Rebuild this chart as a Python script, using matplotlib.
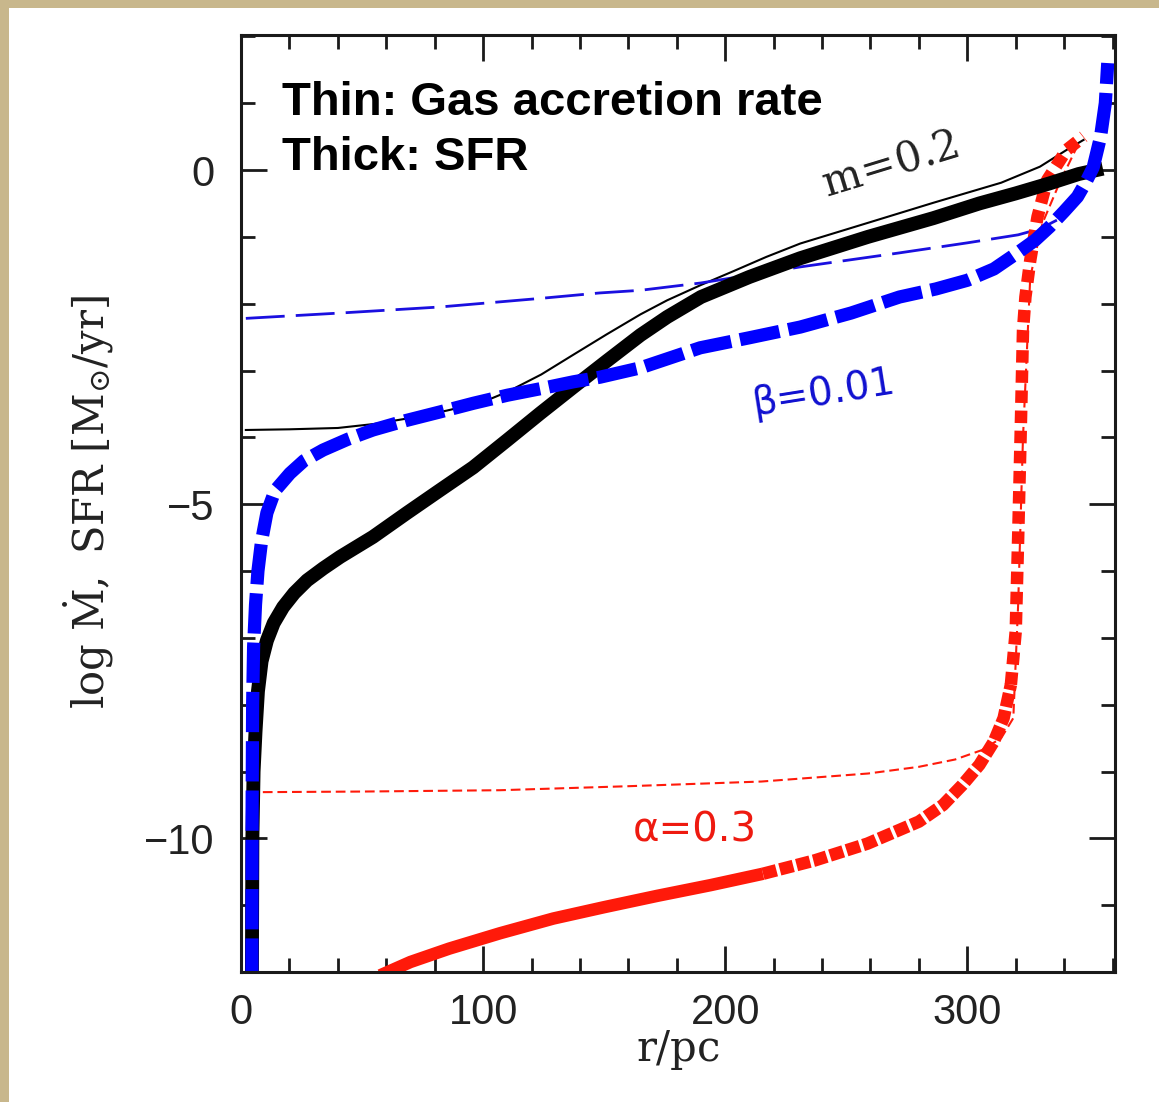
import numpy as np
import matplotlib.pyplot as plt
from matplotlib.patches import Rectangle
from matplotlib.ticker import MultipleLocator

plt.rcParams['mathtext.fontset'] = 'dejavuserif'
plt.rcParams['lines.scale_dashes'] = False
plt.rcParams['font.family'] = ['Liberation Sans', 'DejaVu Sans']

# thin lines: gas accretion rate
r_thin_m = [2, 20, 40, 55, 70, 85, 100, 110, 124, 137, 151, 165, 176, 190, 203, 217, 231, 259, 286, 314, 330, 341, 348]
lg_thin_m = [-3.89, -3.88, -3.86, -3.80, -3.71, -3.60, -3.47, -3.32, -3.06, -2.77, -2.46, -2.16, -1.95, -1.72,
             -1.52, -1.30, -1.10, -0.79, -0.49, -0.19, 0.05, 0.30, 0.45]

r_thin_b = [2, 41, 82, 124, 148, 165, 190, 231, 272, 300, 321, 330, 337]
lg_thin_b = [-2.22, -2.14, -2.05, -1.92, -1.84, -1.80, -1.69, -1.45, -1.24, -1.09, -0.97, -0.88, -0.75]

r_thin_a = [3, 50, 107, 160, 215, 259, 280, 295, 306, 314, 319, 321, 323, 326, 331, 338, 346]
lg_thin_a = [-9.31, -9.30, -9.28, -9.22, -9.15, -9.03, -8.93, -8.82, -8.68, -8.5, -8.2, -6.5, -4.0, -1.6,
             -0.8, -0.2, 0.4]

# thick lines: SFR
r_sfr_m = [4.5, 4.7, 5.2, 6.0, 7.0, 8.5, 10.7, 13.5, 17.4, 22, 27.3, 34, 40.9, 54.5, 68.6, 82.2, 95.9, 110,
           123.6, 137.2, 151, 165, 176, 190, 210, 231, 259, 286, 305, 320, 334, 346, 356]
lg_sfr_m = [-12.1, -10.0, -9.0, -8.4, -7.8, -7.35, -7.04, -6.78, -6.54, -6.33, -6.14, -5.96, -5.79, -5.49,
            -5.13, -4.79, -4.45, -4.04, -3.64, -3.25, -2.86, -2.47, -2.20, -1.90, -1.60, -1.32, -1.00, -0.72,
            -0.50, -0.35, -0.20, -0.06, 0.02]

r_sfr_b = [4.5, 4.6, 4.8, 5.2, 6.0, 7.0, 8.5, 10.7, 14, 20.2, 26, 33.9, 44, 54.5, 68, 82.2, 96, 110, 124,
           137.2, 148.3, 165, 189.7, 210, 231, 252, 272, 287, 300, 311, 320.7, 328, 334, 340, 345.5, 349,
           352, 355, 357, 358]
lg_sfr_b = [-12.1, -9.5, -8.0, -7.14, -6.5, -6.0, -5.55, -5.13, -4.8, -4.54, -4.35, -4.19, -4.03, -3.89,
            -3.75, -3.62, -3.49, -3.37, -3.27, -3.17, -3.10, -2.96, -2.66, -2.51, -2.35, -2.14, -1.90, -1.78,
            -1.65, -1.48, -1.24, -1.05, -0.85, -0.62, -0.40, -0.18, 0.04, 0.49, 1.0, 1.6]

r_sfr_a = [57.5, 70, 86, 107, 129, 150, 172, 194, 215.6, 237, 258.7, 280, 290, 298, 305, 311, 315, 318,
           320, 321, 322, 323, 324, 326, 329, 333, 341, 348]
lg_sfr_a = [-12.05, -11.85, -11.65, -11.42, -11.2, -11.03, -10.86, -10.7, -10.53, -10.33, -10.08, -9.75,
            -9.5, -9.2, -8.9, -8.55, -8.2, -7.7, -6.9, -5.5, -4.0, -2.4, -1.9, -1.35, -0.7, -0.15, 0.3, 0.5]

W, H = 1159, 1102
fig = plt.figure(figsize=(W / 100, H / 100), dpi=100, facecolor='#c8b78c')
fig.add_artist(Rectangle((9 / W, 0), 1, 1 - 8 / H, transform=fig.transFigure,
                         facecolor='white', edgecolor='none', zorder=-10))
ax = fig.add_axes([241 / W, 1 - 972 / H, (1115 - 241) / W, (972 - 35) / H])

ax.plot(r_thin_a, lg_thin_a, color='#ff1a0a', lw=1.5, ls=(0, (7, 3.5)))
ax.plot(r_thin_m, lg_thin_m, color='black', lw=1.5)
ax.plot(r_thin_b, lg_thin_b, color='#1a0fe0', lw=2, ls=(0, (28, 8)))

# thick red: solid at low r, tight dashes on the bend, dotted on the steep rise
ra = np.array(r_sfr_a)
la = np.array(lg_sfr_a)
p1 = ra <= 216
p2 = (ra >= 215) & (ra <= 318)
p3 = ra >= 318
ax.plot(ra[p1], la[p1], color='#ff1a0a', lw=9, solid_capstyle='butt')
ax.plot(ra[p2], la[p2], color='#ff1a0a', lw=9, ls=(0, (10, 2.5)), dash_capstyle='butt')
ax.plot(ra[p3], la[p3], color='#ff1a0a', lw=9, ls=(0, (9, 5.5)), dash_capstyle='butt')
ax.plot(r_sfr_m, lg_sfr_m, color='black', lw=10, solid_capstyle='butt')
ax.plot(r_sfr_b, lg_sfr_b, color='#0000ff', lw=9.5, ls=(0, (29, 6.5)), dash_capstyle='butt')

ax.set_xlim(0, 361)
ax.set_ylim(-12, 2.02)
ax.set_xticks([0, 100, 200, 300])
ax.set_yticks([-10, -5, 0])
ax.xaxis.set_minor_locator(MultipleLocator(20))
ax.yaxis.set_minor_locator(MultipleLocator(1))
ax.tick_params(which='both', direction='in', top=True, right=True, width=2, color='#1a1a1a')
ax.tick_params(which='major', length=19, labelsize=30, labelcolor='#222222')
ax.tick_params(axis='x', which='major', pad=15)
ax.tick_params(axis='y', which='major', pad=19)
ax.tick_params(which='minor', length=10)
for s in ax.spines.values():
    s.set_linewidth(2.2)
    s.set_color('#1a1a1a')

ax.set_xlabel(r'$\mathrm{r/pc}$', fontsize=30, color='#222222')
ax.xaxis.set_label_coords(0.5, -0.0835)
ax.xaxis.label.set_va('center')
ax.set_ylabel(r'$\mathrm{log\ \dot{M},\ SFR\ [M_{\odot}/yr]}$', fontsize=30, color='#222222')
ax.yaxis.set_label_coords(-0.174, 0.5016)
ax.yaxis.label.set_va('center')

ax.text(16.9, 0.82, 'Thin: Gas accretion rate', fontsize=34, fontweight='bold', va='baseline', ha='left')
ax.text(16.9, 0.0, 'Thick: SFR', fontsize=34, fontweight='bold', va='baseline', ha='left')
ax.text(268, 0.07, r'$\mathrm{m\!=\!0.2}$', fontsize=30, rotation=17, ha='center', va='center',
        rotation_mode='anchor', color='#222222')
ax.text(240.5, -3.34, 'β=0.01', fontsize=28, rotation=9, ha='center', va='center',
        rotation_mode='anchor', color='#1010d0', family=['DejaVu Sans'])
ax.text(187.6, -9.88, 'α=0.3', fontsize=29, ha='center', va='center', color='#ee1a10',
        family=['DejaVu Sans'])

fig.savefig('out.png', dpi=100, facecolor=fig.get_facecolor())
